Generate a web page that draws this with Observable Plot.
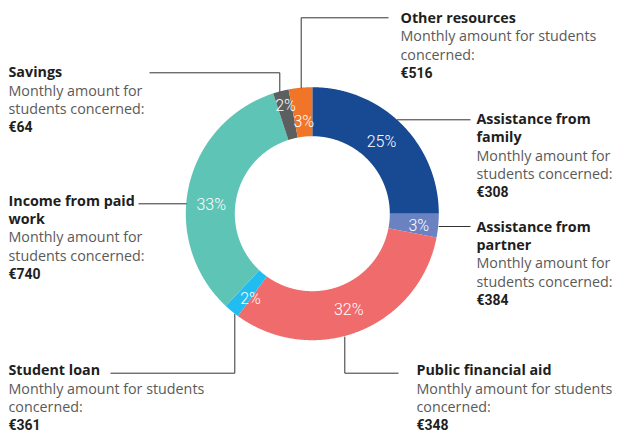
<!DOCTYPE html>
<html><head><meta charset="utf-8">
<script src="https://cdn.jsdelivr.net/npm/d3@7"></script>
<script src="https://cdn.jsdelivr.net/npm/@observablehq/plot@0.6"></script>
<style>
html,body{margin:0;padding:0;background:#fff;}
#chart svg{display:block;}
</style></head><body><div id="chart"></div><script>
// ---- data ----
const categories = ["Assistance from family","Assistance from partner","Public financial aid","Student loan","Income from paid work","Savings","Other resources"];
const shares = [25, 3, 32, 2, 33, 2, 3];
const percentLabels = ["25%","3%","32%","2%","33%","2%","3%"];
const amounts = ["€308","€384","€348","€361","€740","€64","€516"];
const colors = ["#174a93","#6a82c2","#f06b6c","#22bdf0","#5ec4b6","#5c5f5f","#f07529"];

// ---- layout (positions only) ----
const W = 617, H = 433;
const cx = 312.3, cy = 213.7, R = 126.5, r = 77.5;
// percent label placement: angle (deg clockwise from top), radius
const pctPos = [[43.4,100],[96.1,106.6],[159.4,102],[216.4,105],[275.5,102],[345.9,112],[354.4,92.4]];
// annotation blocks
const blocks = [
  {title:["Assistance from","family"], sub:["Monthly amount for","students concerned:"], x:476, base:123.3, leader:{dir:"h", y:119.3, end:470}},
  {title:["Assistance from","partner"], sub:["Monthly amount for","students concerned:"], x:476, base:231, leader:{dir:"h", y:226, end:470}},
  {title:["Public financial aid"], sub:["Monthly amount for students","concerned:"], x:416, base:374.8, leader:{dir:"v", x:344.3, y:372.7, end:398}},
  {title:["Student loan"], sub:["Monthly amount for students","concerned:"], x:8, base:374.8, leader:{dir:"v", x:234.3, y:372.7, end:110}},
  {title:["Income from paid","work"], sub:["Monthly amount for","students concerned:"], x:8, base:205, leader:{dir:"h", y:203.3, end:138}},
  {title:["Savings"], sub:["Monthly amount for","students concerned:"], x:8, base:76.7, leader:{dir:"v", x:279.3, y:72.3, end:149}},
  {title:["Other resources"], sub:["Monthly amount for students","concerned:"], x:400, base:22.3, leader:{dir:"v", x:300.7, y:17.3, end:388}}
];
const step = 18.35;

// ---- derived geometry ----
const rad = a => a * Math.PI / 180;
const total = d3.sum(shares);
const areaPts = [];
let acc = 0;
categories.forEach((c, i) => {
  const a0 = acc / total * 2 * Math.PI;
  acc += shares[i];
  const a1 = acc / total * 2 * Math.PI;
  const n = Math.max(2, Math.ceil((a1 - a0) / 0.005));
  for (let k = 0; k <= n; k++) {
    const a = a0 + (a1 - a0) * k / n;
    areaPts.push({key: c,
      x1: cx + R * Math.sin(a), y1: cy - R * Math.cos(a),
      x2: cx + r * Math.sin(a), y2: cy - r * Math.cos(a)});
  }
});
const pctData = categories.map((c, i) => ({key: c, text: percentLabels[i],
  x: cx + pctPos[i][1] * Math.sin(rad(pctPos[i][0])),
  y: cy - pctPos[i][1] * Math.cos(rad(pctPos[i][0]))}));

const leaderPts = [];
const titleRows = [], subRows = [], amountRows = [];
blocks.forEach((b, i) => {
  const c = categories[i], L = b.leader;
  if (L.dir === "h") {
    const side = L.end > cx ? 1 : -1;
    const x0 = cx + side * Math.sqrt(R * R - (L.y - cy) ** 2);
    leaderPts.push({key: c, x: x0, y: L.y}, {key: c, x: L.end, y: L.y});
  } else {
    const side = L.y > cy ? 1 : -1;
    const y0 = cy + side * Math.sqrt(R * R - (L.x - cx) ** 2);
    leaderPts.push({key: c, x: L.x, y: y0}, {key: c, x: L.x, y: L.y}, {key: c, x: L.end, y: L.y});
  }
  let row = 0;
  b.title.forEach(t => titleRows.push({x: b.x, y: b.base + step * row++, text: t}));
  b.sub.forEach(t => subRows.push({x: b.x, y: b.base + step * row++, text: t}));
  amountRows.push({x: b.x, y: b.base + step * row++, text: amounts[i]});
});

const sans = "'Open Sans', 'Noto Sans', sans-serif";
const narrow = "'Roboto', 'Liberation Sans', sans-serif";

const chart = Plot.plot({
  width: W, height: H,
  margin: 0,
  x: {domain: [0, W], range: [0, W], axis: null},
  y: {domain: [0, H], range: [0, H], axis: null},
  color: {domain: categories, range: colors},
  marks: [
    Plot.area(areaPts, {x1: "x1", y1: "y1", x2: "x2", y2: "y2", z: "key", fill: "key", curve: "linear"}),
    Plot.line(leaderPts, {x: "x", y: "y", z: "key", stroke: "#333", strokeWidth: 1, strokeLinecap: "butt", strokeLinejoin: "miter"}),
    Plot.text(pctData, {x: "x", y: "y", text: "text", fill: "white", fontSize: 16, fontWeight: 300, fontFamily: narrow, textAnchor: "middle", ariaLabel: "pct"}),
    Plot.text(titleRows, {x: "x", y: "y", text: "text", textAnchor: "start", lineAnchor: "bottom", fontSize: 14.3, fontWeight: "bold", fontFamily: sans, fill: "#1e1e1e"}),
    Plot.text(subRows, {x: "x", y: "y", text: "text", textAnchor: "start", lineAnchor: "bottom", fontSize: 14.3, fontFamily: sans, fill: "#5a5a5a"}),
    Plot.text(amountRows, {x: "x", y: "y", text: "text", textAnchor: "start", lineAnchor: "bottom", fontSize: 14, fontWeight: "bold", fontFamily: narrow, fill: "#1e1e1e", ariaLabel: "amount"})
  ]
});

// condense the narrow-font labels horizontally (keeps them as real text)
function condense(label, s) {
  d3.select(chart).selectAll(`g[aria-label="${label}"] text`).each(function() {
    const t = this.getAttribute("transform");
    if (t && /translate/.test(t)) {
      this.setAttribute("transform", t + ` scale(${s},1)`);
    } else {
      const x = parseFloat(this.getAttribute("x")) || 0;
      const yAttr = this.getAttribute("y");
      const y = yAttr && !/em$/.test(yAttr) ? parseFloat(yAttr) : 0;
      this.removeAttribute("x");
      if (yAttr && !/em$/.test(yAttr)) this.removeAttribute("y");
      this.setAttribute("transform", `${t || ""} translate(${x},${y}) scale(${s},1)`);
    }
  });
}
condense("pct", 0.8);
condense("amount", 0.82);
document.getElementById("chart").appendChild(chart);
</script></body></html>
